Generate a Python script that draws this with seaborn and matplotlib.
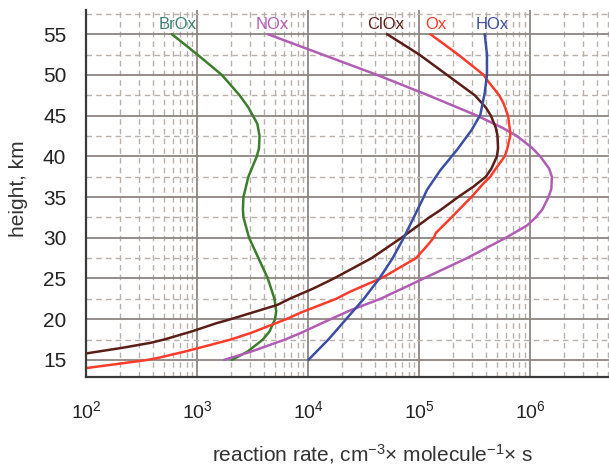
import numpy as np
import pandas as pd
import matplotlib
matplotlib.use("Agg")
import matplotlib.pyplot as plt
import seaborn as sns
from matplotlib.ticker import LogLocator, MultipleLocator, NullFormatter

# ---- data (rate in cm^-3 molecule^-1 s, height in km) ----
species = ["BrOx", "NOx", "ClOx", "Ox", "HOx"]

brox_height = [55, 52.5, 50, 47.5, 46, 45, 44, 42.5, 41, 40, 37.5, 35, 33.5, 32.5, 30, 27.5,
               25, 22.5, 21, 20, 18.5, 17.5, 16, 15]
brox_rate = [589, 1000, 1660, 2400, 2880, 3160, 3470, 3630, 3590, 3430, 2880, 2600, 2570, 2600,
             2920, 3550, 4310, 4950, 5130, 5010, 4470, 3890, 2820, 2040]

nox_height = [55, 50, 47.5, 45, 43.5, 42.5, 41, 40, 38.5, 37.5, 36, 35, 33.5, 32.5, 31.5, 30,
              27.5, 25, 22.5, 21.1, 20, 18.3, 17.5, 16, 15]
nox_rate = [4315, 41690, 120200, 331100, 562300, 758600, 1.047e6, 1.230e6, 1.479e6, 1.567e6,
            1.549e6, 1.462e6, 1.288e6, 1.122e6, 9.33e5, 6.03e5, 2.69e5, 1.096e5, 4.47e4,
            2.40e4, 1.585e4, 8510, 6166, 3020, 1738]

clox_height = [55, 52.5, 50, 47.5, 46, 45, 43.5, 42.5, 41, 40, 38.5, 37.5, 36.3, 35, 33.4,
               32.5, 30, 27.5, 25, 23.8, 22.5, 21.75, 20, 19.5, 18.5, 17.5, 17.1, 16.5, 15.8]
clox_rate = [51290, 100000, 177800, 316200, 398100, 441600, 489800, 507000, 512900, 501200,
             446700, 398100, 309000, 223900, 154900, 123000, 69180, 37150, 16980, 11220,
             6761, 5248, 1995, 1479, 891, 501, 380, 214, 100]

ox_height = [55, 52.5, 50, 49.4, 47.5, 46.5, 45, 42.9, 42.5, 40.8, 40, 38.7, 37.5, 36.7, 35,
             34.6, 32.5, 30.6, 30, 28.7, 27.5, 25.2, 25, 23.4, 22.5, 20.8, 20, 18.3, 17.5,
             16.85, 16, 15.2, 15, 14.5, 14]
ox_rate = [125900, 223900, 380200, 407400, 524800, 575400, 631000, 660700, 660700, 616600,
           588800, 501200, 436500, 380200, 295100, 275400, 195000, 141300, 134900, 112200,
           93330, 47860, 44670, 23990, 17780, 8511, 6310, 3020, 1995, 1318, 759, 427, 355,
           190, 100]

hox_height = [55, 52.5, 50, 47.8, 45.1, 43.2, 40.8, 38.3, 35.9, 35, 32.5, 30, 27.5, 25,
              22.5, 20, 17.5, 15]
hox_rate = [389000, 407400, 407400, 389000, 354800, 295100, 218800, 154900, 117500, 109600,
            89130, 72440, 57540, 43650, 31620, 21880, 15140, 10000]

# label anchor points (rate, height) for the curve names
label_rate = [660, 4680, 50100, 141000, 457000]
label_height = [56.2, 56.2, 56.2, 56.2, 56.2]

y_ticks = [15, 20, 25, 30, 35, 40, 45, 50, 55]

# ---- build long table ----
frames = []
for name, h, r in [("BrOx", brox_height, brox_rate), ("NOx", nox_height, nox_rate),
                   ("ClOx", clox_height, clox_rate), ("Ox", ox_height, ox_rate),
                   ("HOx", hox_height, hox_rate)]:
    frames.append(pd.DataFrame({"species": name, "height": h, "rate": r}))
df = pd.concat(frames, ignore_index=True)

line_colors = {"BrOx": "#3b7d2b", "NOx": "#b25db4", "ClOx": "#5a1e17",
               "Ox": "#ff3b2b", "HOx": "#3c4ea2"}
text_colors = {"BrOx": "#3d8274", "NOx": "#b25db4", "ClOx": "#5a1e17",
               "Ox": "#ff3b2b", "HOx": "#3c4ea2"}

sns.set_theme(style="white")
plt.rcParams['font.family'] = ['Liberation Sans', 'DejaVu Sans']
plt.rcParams['mathtext.default'] = 'regular'

fig = plt.figure(figsize=(6.09, 4.66), dpi=100)
ax = fig.add_axes([0.142, 0.191, 0.858, 0.788])

sns.lineplot(data=df, x="rate", y="height", hue="species", palette=line_colors,
             orient="y", sort=False, estimator=None, legend=False, lw=1.8, ax=ax,
             solid_joinstyle="round", solid_capstyle="round")

ax.set_xscale("log")
ax.set_xlim(100, 10 ** 6.71)
ax.set_ylim(12.9, 58.0)

ax.xaxis.set_major_locator(LogLocator(base=10, numticks=10))
ax.xaxis.set_minor_locator(LogLocator(base=10, subs=np.arange(2, 10), numticks=100))
ax.xaxis.set_minor_formatter(NullFormatter())
ax.set_yticks(y_ticks)
ax.yaxis.set_minor_locator(MultipleLocator(2.5))

ax.set_axisbelow(True)
ax.grid(which="major", color="#8e8580", lw=1.3, ls="-")
ax.grid(which="minor", color="#b8b0ab", lw=1.0, ls=(0, (4, 3)))

for s in ["top", "right"]:
    ax.spines[s].set_visible(False)
for s in ["left", "bottom"]:
    ax.spines[s].set_color("#3a3a3a")
    ax.spines[s].set_linewidth(1.6)

ax.tick_params(which="major", direction="out", length=11, width=1.6, color="#3a3a3a",
               labelcolor="#222222")
ax.tick_params(which="minor", direction="out", length=5.5, width=1.4, color="#3a3a3a")
ax.tick_params(axis="y", which="major", labelsize=15, pad=3.5)
ax.tick_params(axis="x", which="major", labelsize=14, pad=6)

for name, lr, lh in zip(species, label_rate, label_height):
    ax.text(lr, lh, name, color=text_colors[name], fontsize=12, ha="center", va="center")

ax.set_xlabel("")
ax.set_ylabel("")
fig.text(0.612, 0.010, "reaction rate, cm$^{-3}$× molecule$^{-1}$× s", fontsize=15,
         ha="center", va="baseline", color="#333333")
fig.text(0.030, 0.595, "height, km", fontsize=15, rotation=90, ha="center", va="center",
         color="#333333")

fig.savefig("out.png", dpi=100)
